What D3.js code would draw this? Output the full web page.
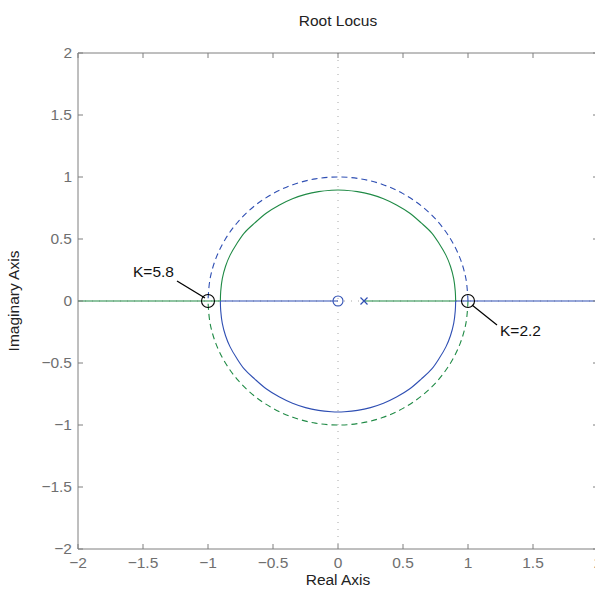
<!DOCTYPE html>
<html><head><meta charset="utf-8">
<script src="https://cdn.jsdelivr.net/npm/d3@7"></script>
<style>body{margin:0;background:#fff}svg{display:block;font-family:"Liberation Sans",Arial,Helvetica,sans-serif}</style>
</head><body>
<script>
// ---- data ----
const xTicks = [-2, -1.5, -1, -0.5, 0, 0.5, 1, 1.5, 2];
const yTicks = [-2, -1.5, -1, -0.5, 0, 0.5, 1, 1.5, 2];
const xTickLabels = ["−2","−1.5","−1","−0.5","0","0.5","1","1.5","2"];
const yTickLabels = ["−2","−1.5","−1","−0.5","0","0.5","1","1.5","2"];
// locus branch 1 (green): upper arc
const greenArcRe = [0.905,0.902,0.89,0.865,0.83,0.78,0.72,0.64,0.55,0.45,0.35,0.25,0.15,0.05,0,-0.05,-0.15,-0.25,-0.35,-0.45,-0.55,-0.64,-0.72,-0.78,-0.83,-0.865,-0.89,-0.902,-0.905];
const greenArcIm = [0,0.08,0.18,0.28,0.37,0.46,0.55,0.63,0.71,0.775,0.825,0.86,0.882,0.893,0.895,0.893,0.882,0.86,0.825,0.775,0.71,0.63,0.55,0.46,0.37,0.28,0.18,0.08,0];
// locus branch 2 (blue): lower arc
const blueArcRe = [0.905,0.902,0.89,0.865,0.83,0.78,0.72,0.64,0.55,0.45,0.35,0.25,0.15,0.05,0,-0.05,-0.15,-0.25,-0.35,-0.45,-0.55,-0.64,-0.72,-0.78,-0.83,-0.865,-0.89,-0.902,-0.905];
const blueArcIm = [0,-0.08,-0.18,-0.28,-0.37,-0.46,-0.55,-0.63,-0.71,-0.775,-0.825,-0.86,-0.882,-0.893,-0.895,-0.893,-0.882,-0.86,-0.825,-0.775,-0.71,-0.63,-0.55,-0.46,-0.37,-0.28,-0.18,-0.08,0];
// real-axis segments [start, end, colour]
const realSegStart = [-2, -0.905, 0.2, 0.905];
const realSegEnd   = [-0.905, 0, 0.905, 2];
const realSegSeries = ["green","blue","green","blue"];
// unit circle (dashed): upper blue, lower green
const unitUpperRe = [1,0.985,0.94,0.866,0.766,0.643,0.5,0.342,0.174,0,-0.174,-0.342,-0.5,-0.643,-0.766,-0.866,-0.94,-0.985,-1];
const unitUpperIm = [0,0.174,0.342,0.5,0.643,0.766,0.866,0.94,0.985,1,0.985,0.94,0.866,0.766,0.643,0.5,0.342,0.174,0];
const unitLowerRe = [1,0.985,0.94,0.866,0.766,0.643,0.5,0.342,0.174,0,-0.174,-0.342,-0.5,-0.643,-0.766,-0.866,-0.94,-0.985,-1];
const unitLowerIm = [0,-0.174,-0.342,-0.5,-0.643,-0.766,-0.866,-0.94,-0.985,-1,-0.985,-0.94,-0.866,-0.766,-0.643,-0.5,-0.342,-0.174,0];
// poles and zeros
const polesRe = [0.2], polesIm = [0];
const zerosRe = [0], zerosIm = [0];
// gain markers
const markRe = [-1, 1], markIm = [0, 0];
const markLabels = ["K=5.8", "K=2.2"];

// ---- drawing ----
const W = 595, H = 591, FS = 15.5;
const blue = "#2f4fb3", green = "#1f8a45", axisCol = "#7f7f7f", labCol = "#6f6f6f";
const colours = {blue: blue, green: green};
const svg = d3.select("body").append("svg").attr("width", W).attr("height", H);
const x = d3.scaleLinear().domain([-2, 2]).range([78, 598]);
const y = d3.scaleLinear().domain([-2, 2]).range([549, 53]);

const defs = svg.append("defs");
defs.append("clipPath").attr("id","clip").append("rect")
  .attr("x", x(-2)).attr("y", y(2)).attr("width", x(2)-x(-2)).attr("height", y(-2)-y(2));
const plot = svg.append("g").attr("clip-path","url(#clip)");

// dotted grid lines through origin
plot.append("line").attr("x1", x(0)).attr("x2", x(0)).attr("y1", y(2)).attr("y2", y(-2))
  .attr("stroke", "#a8a8a8").attr("stroke-width", 1).attr("stroke-dasharray", "1,6");
plot.append("line").attr("x1", x(-2)).attr("x2", x(2)).attr("y1", y(0)).attr("y2", y(0))
  .attr("stroke", "#a8a8a8").attr("stroke-width", 1).attr("stroke-dasharray", "1,6");

const line = d3.line().x(d => x(d[0])).y(d => y(d[1])).curve(d3.curveCatmullRom);
const zip = (a, b) => a.map((v, i) => [v, b[i]]);

// unit circle dashed
plot.append("path").datum(zip(unitUpperRe, unitUpperIm)).attr("d", line)
  .attr("fill","none").attr("stroke", blue).attr("stroke-width", 1.1).attr("stroke-dasharray", "6,4");
plot.append("path").datum(zip(unitLowerRe, unitLowerIm)).attr("d", line)
  .attr("fill","none").attr("stroke", green).attr("stroke-width", 1.1).attr("stroke-dasharray", "6,4");

// real axis segments
realSegStart.forEach((s, i) => {
  plot.append("line").attr("x1", x(s)).attr("x2", x(realSegEnd[i])).attr("y1", y(0)).attr("y2", y(0))
    .attr("stroke", colours[realSegSeries[i]]).attr("stroke-width", 1.1);
});

// arcs
plot.append("path").datum(zip(greenArcRe, greenArcIm)).attr("d", line)
  .attr("fill","none").attr("stroke", green).attr("stroke-width", 1.1);
plot.append("path").datum(zip(blueArcRe, blueArcIm)).attr("d", line)
  .attr("fill","none").attr("stroke", blue).attr("stroke-width", 1.1);

// zeros
zerosRe.forEach((r, i) => {
  plot.append("circle").attr("cx", x(r)).attr("cy", y(zerosIm[i])).attr("r", 5)
    .attr("fill","none").attr("stroke", blue).attr("stroke-width", 1.1);
});
// poles
polesRe.forEach((r, i) => {
  const cx = x(r), cy = y(polesIm[i]), s = 3.5;
  plot.append("path").attr("d", `M${cx-s},${cy-s}L${cx+s},${cy+s}M${cx-s},${cy+s}L${cx+s},${cy-s}`)
    .attr("stroke", blue).attr("stroke-width", 1.2);
});

// gain markers
markRe.forEach((r, i) => {
  plot.append("circle").attr("cx", x(r)).attr("cy", y(markIm[i])).attr("r", 6.5)
    .attr("fill","none").attr("stroke", "#000").attr("stroke-width", 1.1);
});
// annotations
const ann = [
  {tx: 133, ty: 277, lx1: 177, ly1: 281, lx2: x(markRe[0]) - 3, ly2: y(markIm[0]) - 3},
  {tx: 500, ty: 336, lx1: 497, ly1: 325, lx2: x(markRe[1]) + 4, ly2: y(markIm[1]) + 4}
];
ann.forEach((a, i) => {
  svg.append("line").attr("x1", a.lx1).attr("y1", a.ly1).attr("x2", a.lx2).attr("y2", a.ly2)
    .attr("stroke", "#000").attr("stroke-width", 1.3);
  svg.append("text").attr("x", a.tx).attr("y", a.ty).attr("text-anchor", "start")
    .attr("font-size", FS).attr("fill", "#111").text(markLabels[i]);
});

// axes box
const ax = svg.append("g");
ax.append("line").attr("x1", x(-2)).attr("x2", x(-2)).attr("y1", y(2)).attr("y2", y(-2)).attr("stroke", axisCol);
ax.append("line").attr("x1", x(-2)).attr("x2", x(2)).attr("y1", y(-2)).attr("y2", y(-2)).attr("stroke", axisCol);
ax.append("line").attr("x1", x(-2)).attr("x2", x(2)).attr("y1", y(2)).attr("y2", y(2)).attr("stroke", axisCol);
ax.append("line").attr("x1", x(2)).attr("x2", x(2)).attr("y1", y(2)).attr("y2", y(-2)).attr("stroke", axisCol);

const tl = 5;
xTicks.forEach((t, i) => {
  ax.append("line").attr("x1", x(t)).attr("x2", x(t)).attr("y1", y(-2)).attr("y2", y(-2) - tl).attr("stroke", axisCol);
  ax.append("line").attr("x1", x(t)).attr("x2", x(t)).attr("y1", y(2)).attr("y2", y(2) + tl).attr("stroke", axisCol);
  ax.append("text").attr("x", x(t)).attr("y", 568).attr("text-anchor", "middle")
    .attr("font-size", FS).attr("fill", labCol).text(xTickLabels[i]);
});
yTicks.forEach((t, i) => {
  ax.append("line").attr("x1", x(-2)).attr("x2", x(-2) + tl).attr("y1", y(t)).attr("y2", y(t)).attr("stroke", axisCol);
  ax.append("line").attr("x1", x(2)).attr("x2", x(2) - tl).attr("y1", y(t)).attr("y2", y(t)).attr("stroke", axisCol);
  ax.append("text").attr("x", 72).attr("y", y(t)).attr("dy", "0.35em").attr("text-anchor", "end")
    .attr("font-size", FS).attr("fill", labCol).text(yTickLabels[i]);
});

svg.append("text").attr("x", x(0)).attr("y", 26).attr("text-anchor", "middle")
  .attr("font-size", FS).attr("fill", "#222").text("Root Locus");
svg.append("text").attr("x", x(0)).attr("y", 585).attr("text-anchor", "middle")
  .attr("font-size", FS).attr("fill", "#222").text("Real Axis");
svg.append("text").attr("transform", `translate(19,${y(0)}) rotate(-90)`).attr("text-anchor", "middle")
  .attr("font-size", FS).attr("fill", "#222").text("Imaginary Axis");
</script>
</body></html>
